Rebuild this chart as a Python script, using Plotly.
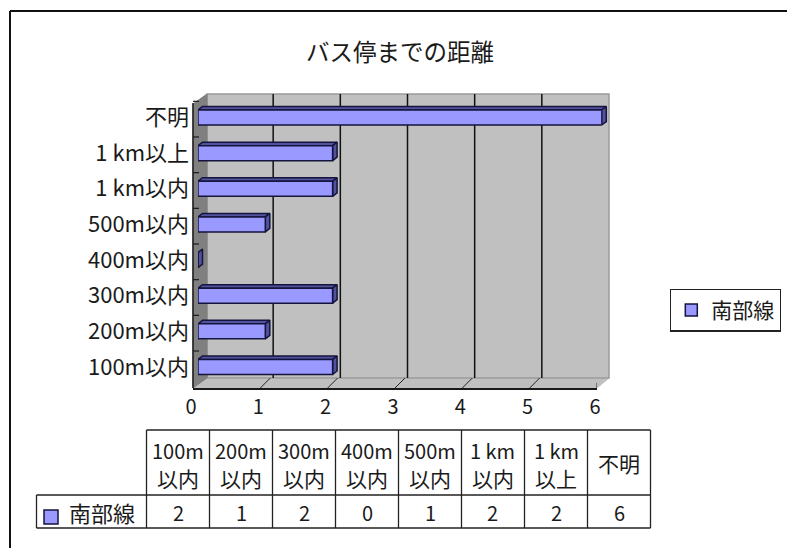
import plotly.graph_objects as go

# ---- data ----
TITLE = "バス停までの距離"
SERIES = "南部線"
CAT_AXIS = ["100m以内", "200m以内", "300m以内", "400m以内", "500m以内", "1 km以内", "1 km以上", "不明"]
CAT_TABLE_1 = ["100m", "200m", "300m", "400m", "500m", "1 km", "1 km", "不明"]
CAT_TABLE_2 = ["以内", "以内", "以内", "以内", "以内", "以内", "以上", ""]
VALUES = [2, 1, 2, 0, 1, 2, 2, 6]
X_TICKS = [0, 1, 2, 3, 4, 5, 6]

# ---- styles ----
W, H = 787, 548
FONT = "Noto Sans CJK JP"
INK = "#1a1a1a"
FACE = "#9999FF"
SHADE = "#52529E"
EDGE = "#14143C"
WALL = "#C0C0C0"
SIDEWALL = "#808080"


def fx(px):
    return px / W


def fy(py):
    return 1 - py / H


def dom_x(a, b):
    return [fx(a), fx(b)]


def dom_y(top, bottom):
    return [fy(bottom), fy(top)]


BAR_DX = 4.5 / 67.3      # extrusion in value units
BAR_DY = 3.5 / 35.6      # extrusion in band units
BAR_H = 7.5 / 35.6       # half bar height in band units

fig = go.Figure()

# gridlines on the back wall
gx, gy = [], []
for t in X_TICKS[1:-1]:
    gx += [t, t, None]
    gy += [0, 1, None]
fig.add_trace(go.Scatter(x=gx, y=gy, xaxis="x", yaxis="y", mode="lines",
                         line=dict(color="#111111", width=1.5), showlegend=False, hoverinfo="skip"))

# extruded top and side of each bar, on a linear copy of the band axis
top_x, top_y, side_x, side_y = [], [], [], []
for i, v in enumerate(VALUES):
    if v > 0:
        top_x += [0, v, v + BAR_DX, BAR_DX, 0, None]
        top_y += [i + BAR_H, i + BAR_H, i + BAR_H + BAR_DY, i + BAR_H + BAR_DY, i + BAR_H, None]
    side_x += [v, v + BAR_DX, v + BAR_DX, v, v, None]
    side_y += [i - BAR_H, i - BAR_H + BAR_DY, i + BAR_H + BAR_DY, i + BAR_H, i - BAR_H, None]
for xs, ys in ((top_x, top_y), (side_x, side_y)):
    fig.add_trace(go.Scatter(x=xs, y=ys, xaxis="x2", yaxis="y2", mode="lines", fill="toself",
                             fillcolor=SHADE, line=dict(color=EDGE, width=1.5), cliponaxis=False,
                             showlegend=False, hoverinfo="skip"))

# front faces
fig.add_trace(go.Bar(x=VALUES, y=CAT_AXIS, orientation="h", xaxis="x3", yaxis="y3", name=SERIES,
                     cliponaxis=False,
                     marker=dict(color=FACE, line=dict(color=EDGE, width=1.5)), showlegend=True))

# floor ticks on the front value axis
tx, ty = [], []
for t in X_TICKS[1:-1]:
    tx += [t, t + 10 / 67.3, None]
    ty += [0, 1, None]
tx += [X_TICKS[-1], X_TICKS[-1], None]
ty += [0, 0.5, None]
fig.add_trace(go.Scatter(x=tx, y=ty, xaxis="x4", yaxis="y4", mode="lines",
                         line=dict(color="#222222", width=1), showlegend=False, hoverinfo="skip"))

shapes = []


def poly(points, fill, line=None, width=1):
    path = "M" + "L".join(f"{fx(a):.5f},{fy(b):.5f}" for a, b in points) + "Z"
    return dict(type="path", xref="paper", yref="paper", path=path, fillcolor=fill,
                line=dict(color=line or fill, width=width), layer="below")


def seg(x0, y0, x1, y1, color=INK, width=1.5, layer="above"):
    return dict(type="line", xref="paper", yref="paper", x0=fx(x0), y0=fy(y0), x1=fx(x1), y1=fy(y1),
                line=dict(color=color, width=width), layer=layer)


# walls
shapes.append(poly([(193, 388), (597, 388), (609, 378), (207, 378)], WALL))
shapes.append(poly([(207, 94), (609, 94), (609, 378), (207, 378)], WALL, "#9A9A9A", 1.5))
shapes.append(poly([(193, 104), (207, 94), (207, 378), (193, 388)], SIDEWALL))
# left wall edge and its band ticks
shapes.append(seg(193, 103, 193, 388))
for k in range(-1, 7):
    yk = 137 + 35.67 * k
    shapes.append(seg(193, yk, 199, yk, width=1.2))
# outer frame, running off the picture
shapes.append(seg(10, 11, W + 2, 11, "#111111", 2))
shapes.append(seg(10, 11, 10, H + 2, "#111111", 2))

# data table
col0, col_w, n = 146.5, 63, len(VALUES)
tb_top, tb_mid, tb_bot, key_left = 430, 495, 528, 36.5
tb_right = col0 + col_w * n
TBL = "#222222"
shapes.append(seg(col0, tb_top, tb_right, tb_top, TBL, 1.3))
shapes.append(seg(key_left, tb_mid, tb_right, tb_mid, TBL, 1.3))
shapes.append(seg(key_left, tb_bot, tb_right, tb_bot, TBL, 1.3))
shapes.append(seg(key_left, tb_mid, key_left, tb_bot, TBL, 1.3))
for i in range(n + 1):
    x = col0 + col_w * i
    shapes.append(seg(x, tb_top, x, tb_bot, TBL, 1.3))
shapes.append(dict(type="rect", xref="paper", yref="paper", x0=fx(44), x1=fx(58), y0=fy(524), y1=fy(510),
                   fillcolor=FACE, line=dict(color=EDGE, width=1.5)))

annotations = []
TXT = dict(xref="paper", yref="paper", showarrow=False, xanchor="center", yanchor="middle", borderpad=0, borderwidth=0)
CELL = dict(family=FONT, size=20, color=INK)
for i, (c1, c2, v) in enumerate(zip(CAT_TABLE_1, CAT_TABLE_2, VALUES)):
    cx = col0 + col_w * (i + 0.5)
    if c2:
        annotations.append(dict(text=c1, x=fx(cx), y=fy(450), font=CELL, **TXT))
        annotations.append(dict(text=c2, x=fx(cx), y=fy(478), font=dict(CELL, size=21), **TXT))
    else:
        annotations.append(dict(text=c1, x=fx(cx), y=fy(463), font=dict(CELL, size=21), **TXT))
    annotations.append(dict(text=str(v), x=fx(cx), y=fy(512.5), font=CELL, **TXT))
annotations.append(dict(text=SERIES, x=fx(102), y=fy(511.5), font=dict(family=FONT, size=22, color=INK), **TXT))

common = dict(showgrid=False, zeroline=False, showticklabels=False, ticks="", showline=False, fixedrange=True)
layout = dict(
    width=W, height=H, margin=dict(l=0, r=0, t=0, b=0, autoexpand=False), autosize=False,
    paper_bgcolor="white", plot_bgcolor="rgba(0,0,0,0)", bargap=1 - 15 / 35.6,
    title=dict(text=TITLE, x=400 / W, xanchor="center", y=fy(53), yanchor="middle",
               font=dict(family=FONT, size=23.5, color=INK)),
    # back wall grid
    xaxis=dict(common, domain=dom_x(206, 609), range=[0, 6], anchor="y"),
    yaxis=dict(common, domain=dom_y(94, 378), range=[0, 1], anchor="x"),
    # bar extrusion: half a unit of spare room past the last value keeps the last bar's side unclipped
    xaxis2=dict(common, domain=dom_x(198, 635.45), range=[0, 6.5], anchor="y2"),
    yaxis2=dict(common, domain=dom_y(99.7, 384.8), range=[-0.5, 7.5], anchor="x2"),
    # bar fronts, with the category labels
    xaxis3=dict(common, domain=dom_x(198, 601.8), range=[0, 6], anchor="y3"),
    yaxis3=dict(common, domain=dom_y(99.7, 384.8), type="category", categoryorder="array",
                categoryarray=CAT_AXIS, range=[-0.5, 7.5], anchor="x3", showticklabels=True,
                ticklabelstandoff=8, tickfont=dict(family=FONT, size=22, color=INK)),
    # front value axis along the floor
    xaxis4=dict(common, domain=dom_x(193, 597), range=[0, 6], anchor="y4", showline=True, linecolor=INK,
                linewidth=1.5, showticklabels=True, tickvals=X_TICKS, ticklabelstandoff=0,
                ticklabelshift=-2, tickfont=dict(family=FONT, size=20, color=INK)),
    yaxis4=dict(common, domain=dom_y(378, 388), range=[0, 1], anchor="x4"),
    legend=dict(x=fx(670), xanchor="left", y=fy(310), yanchor="middle", bgcolor="white",
                bordercolor="#222222", borderwidth=1.3, font=dict(family=FONT, size=21, color=INK)),
    showlegend=True,
    shapes=shapes,
    annotations=annotations,
)
fig.update_layout(**layout)
fig.write_html("out.html", config=dict(displayModeBar=False), post_script="document.body.style.margin='0';")
